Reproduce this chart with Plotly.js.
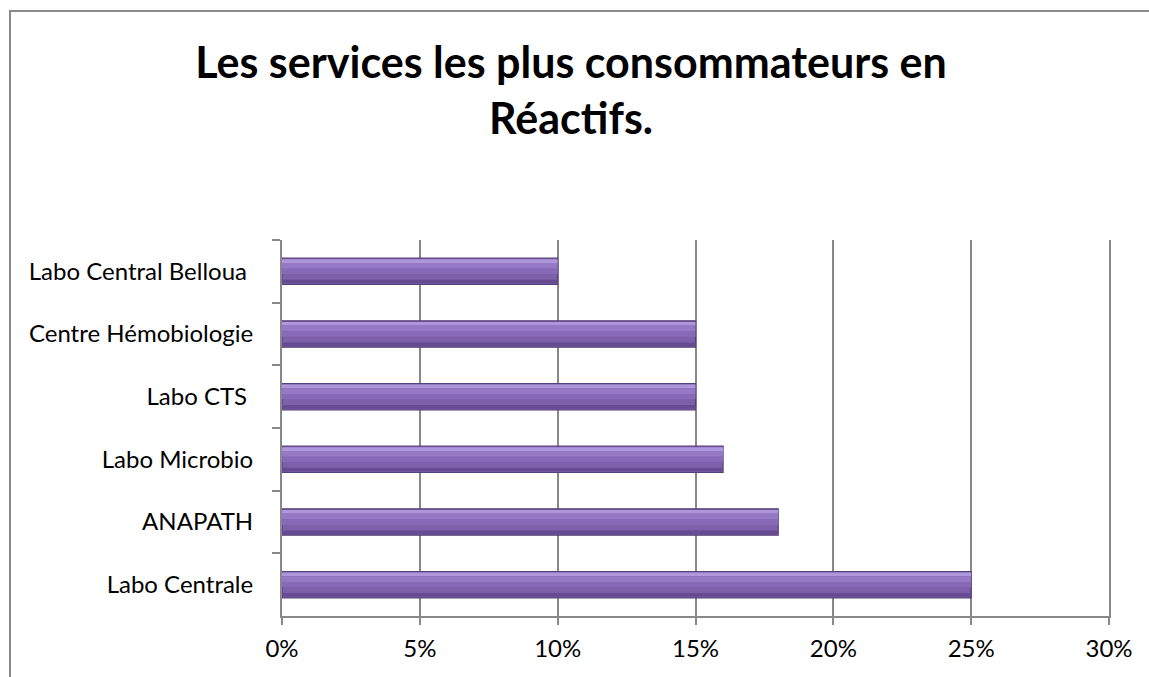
<!DOCTYPE html>
<html><head><meta charset="utf-8">
<script src="https://cdn.plot.ly/plotly-3.0.1.min.js"></script>
<style>
body{margin:0;padding:0;background:#fff;}
#wrap{position:relative;width:1149px;height:677px;overflow:hidden;}
#chart{position:absolute;left:0;top:0;width:1149px;height:677px;}
#frame{position:absolute;left:9px;top:10px;width:1160px;height:700px;border:2px solid #8a8a8a;box-sizing:border-box;pointer-events:none;}
</style></head>
<body><div id="wrap"><div id="chart"></div><div id="frame"></div></div>
<script>
const categories = ["Labo Central Belloua ", "Centre Hémobiologie", "Labo CTS ", "Labo Microbio", "ANAPATH", "Labo Centrale"];
const values = [0.10, 0.15, 0.15, 0.16, 0.18, 0.25];
const xTicks = [0, 0.05, 0.10, 0.15, 0.20, 0.25, 0.30];
const xTickLabels = ["0%", "5%", "10%", "15%", "20%", "25%", "30%"];
const titleText = "<b>Les services les plus consommateurs en<br>Réactifs.</b>";

const font = "Lato, 'Open Sans', sans-serif";
const barW = 0.42;
// bevel look: stacked strips drawn from the same data
const strips = [
  {off: 0.00, w: 1.00, color: '#7d5faa'},
  {off: 0.04, w: 0.14, color: '#ae96da'},
  {off: 0.18, w: 0.22, color: '#9579c5'},
  {off: 0.40, w: 0.20, color: '#8769b7'},
  {off: 0.82, w: 0.14, color: '#654b91'}
];
const traces = strips.map((s, i) => ({
  type: 'bar', orientation: 'h', y: categories, x: values,
  width: barW * s.w, offset: -barW / 2 + barW * s.off,
  marker: {color: s.color, line: i === 0 ? {color: '#54407a', width: 1.2} : {width: 0}},
  hoverinfo: 'skip'
}));
Plotly.newPlot('chart', traces, {
  width: 1149, height: 677,
  margin: {l: 282, r: 40, t: 240, b: 61, pad: 0},
  paper_bgcolor: '#fff', plot_bgcolor: '#fff',
  barmode: 'overlay',
  showlegend: false,
  title: {text: titleText, x: 0.497, xanchor: 'center', yref: 'container', y: 0.885, yanchor: 'middle',
          font: {family: font, size: 43, color: '#000'}},
  font: {family: font, color: '#000'},
  xaxis: {
    range: [0, 0.30], tickvals: xTicks, ticktext: xTickLabels,
    showgrid: true, gridcolor: '#888888', gridwidth: 2,
    showline: true, linecolor: '#888888', linewidth: 2,
    ticks: 'outside', ticklen: 7, tickcolor: '#888888', tickwidth: 2,
    ticklabelstandoff: 3,
    tickfont: {size: 24, family: font, color: '#000'},
    zeroline: false, fixedrange: true
  },
  yaxis: {
    type: 'category', autorange: 'reversed',
    showline: true, mirror: true, linecolor: '#888888', linewidth: 2,
    ticks: 'outside', ticklen: 8, tickcolor: '#888888', tickwidth: 2,
    tickson: 'boundaries',
    ticklabelstandoff: 22,
    tickfont: {size: 24, family: font, color: '#000'},
    showgrid: false, zeroline: false, fixedrange: true
  }
}, {displayModeBar: false, staticPlot: true});
</script></body></html>
